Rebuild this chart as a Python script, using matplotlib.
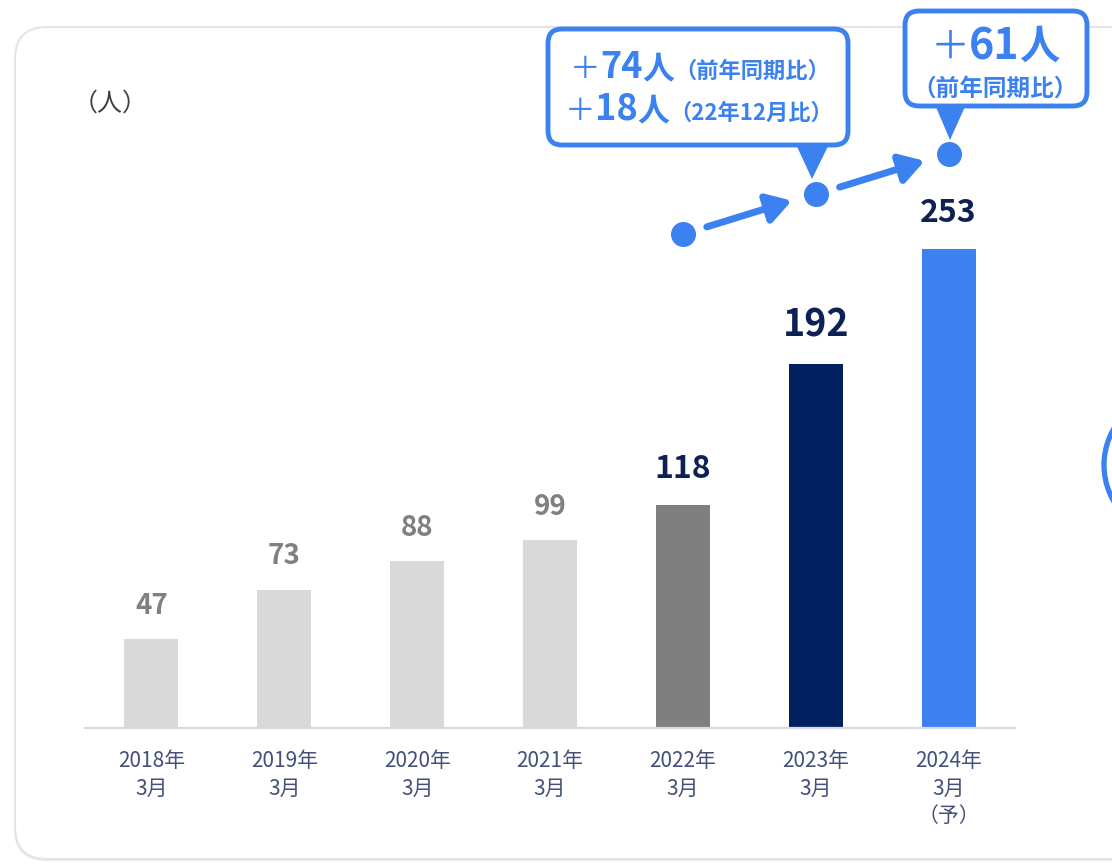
import matplotlib
matplotlib.use("Agg")
import matplotlib.pyplot as plt
from matplotlib.patches import FancyBboxPatch, Polygon, Circle

plt.rcParams['font.family'] = ['Noto Sans CJK JP', 'DejaVu Sans']

# --- data -------------------------------------------------------------
periods = ["2018年\n3月", "2019年\n3月", "2020年\n3月", "2021年\n3月",
           "2022年\n3月", "2023年\n3月", "2024年\n3月\n（予）"]
headcount = [47, 73, 88, 99, 118, 192, 253]
bar_colors = ["#d9d9d9", "#d9d9d9", "#d9d9d9", "#d9d9d9",
              "#7f7f7f", "#002060", "#3b82f0"]
label_colors = ["#808080", "#808080", "#808080", "#808080",
                "#0d2155", "#0d2155", "#0d2155"]
label_sizes = [20, 20, 20, 20, 23, 27, 23]

# trend markers above the last three bars
trend_x = [4, 5, 6]
trend_y = [261, 282, 303]

BLUE = "#3b82f0"
W, H = 1112, 865
PX_PER_UNIT = 1.894

fig = plt.figure(figsize=(W / 100, H / 100), dpi=100)
fig.patch.set_facecolor("white")

# background card
bg = fig.add_axes([0, 0, 1, 1])
bg.set_xlim(0, W)
bg.set_ylim(H, 0)
bg.axis("off")
bg.add_patch(FancyBboxPatch((14, 29), 1150, 832,
                            boxstyle="round,pad=0,rounding_size=32",
                            fc="#ebebeb", ec="none"))
bg.add_patch(FancyBboxPatch((15, 27), 1150, 832,
                            boxstyle="round,pad=0,rounding_size=32",
                            fc="white", ec="#e4e4e4", lw=1.5))
bg.text(73, 104, "（人）", fontsize=18, color="#404040", ha="left", va="center")

# partly visible ring at the right edge
bg.add_patch(Circle((1176, 465), 72, fc="none", ec=BLUE, lw=3.8))

# --- bar chart ---------------------------------------------------------
ax = fig.add_axes([85 / W, (H - 728) / H, 930 / W, 728 / H])
ax.patch.set_alpha(0)
x = list(range(len(headcount)))
ax.bar(x, headcount, width=0.406, color=bar_colors, zorder=2)
ax.set_xlim(-0.5, 6.5)
ax.set_ylim(0, 728 / PX_PER_UNIT)
for s in ("left", "right", "top"):
    ax.spines[s].set_visible(False)
ax.spines["bottom"].set_color("#d9d9d9")
ax.spines["bottom"].set_linewidth(1.6)
ax.set_yticks([])
ax.set_xticks(x)
ax.set_xticklabels(periods, fontsize=15, color="#44507a", linespacing=1.33)
ax.tick_params(axis="x", length=0, pad=16)

for i, v in enumerate(headcount):
    ax.annotate(str(v), (i, v), xytext=(0, 14), textcoords="offset points",
                ha="center", va="bottom", fontsize=label_sizes[i],
                fontweight="bold", color=label_colors[i])

# trend dots and arrows
ax.plot(trend_x, trend_y, "o", ms=17, color=BLUE, clip_on=False, zorder=4)
for (x0, y0), (x1, y1) in zip(zip(trend_x[:-1], trend_y[:-1]),
                              zip(trend_x[1:], trend_y[1:])):
    dx, dy = x1 - x0, y1 - y0
    ax.annotate("", xy=(x0 + 0.82 * dx, y0 + 0.83 * dy),
                xytext=(x0 + 0.18 * dx, y0 + 0.17 * dy),
                arrowprops=dict(arrowstyle="-|>,head_length=0.9,head_width=0.55",
                                lw=5, color=BLUE, shrinkA=0, shrinkB=0,
                                mutation_scale=16),
                annotation_clip=False)

# --- callouts ----------------------------------------------------------
top = fig.add_axes([0, 0, 1, 1])
top.set_xlim(0, W)
top.set_ylim(H, 0)
top.axis("off")
top.patch.set_alpha(0)

top.add_patch(Polygon([(794, 140), (831, 140), (812, 179)], closed=True,
                      fc=BLUE, ec="none"))
top.add_patch(FancyBboxPatch((548, 29), 300, 116,
                             boxstyle="round,pad=0,rounding_size=14",
                             fc="white", ec=BLUE, lw=3.5))
top.add_patch(Polygon([(933, 100), (968, 100), (950, 140)], closed=True,
                      fc=BLUE, ec="none"))
top.add_patch(FancyBboxPatch((905, 11), 182, 95,
                             boxstyle="round,pad=0,rounding_size=14",
                             fc="white", ec=BLUE, lw=3.5))

renderer = fig.canvas.get_renderer()


def draw_segments(segs, cx, y):
    texts = []
    for s, size, weight in segs:
        t = top.text(0, y, s, fontsize=size, fontweight=weight, color=BLUE,
                     ha="left", va="baseline")
        texts.append(t)
    widths = [t.get_window_extent(renderer).width for t in texts]
    cur = cx - sum(widths) / 2
    for t, w in zip(texts, widths):
        t.set_x(cur)
        cur += w


draw_segments([("＋", 22, "normal"), ("74", 26, "bold"), ("人", 23, "bold"),
               ("（前年同期比）", 16, "bold")], 700, 78)
draw_segments([("＋", 22, "normal"), ("18", 26, "bold"), ("人", 23, "bold"),
               ("（22年12月比）", 16, "bold")], 699, 120)
draw_segments([("＋", 28, "normal"), ("61", 31, "bold"), ("人", 29, "bold")],
              995, 59)
draw_segments([("（前年同期比）", 17, "bold")], 995, 96)

fig.savefig("out.png", dpi=100, facecolor="white")
